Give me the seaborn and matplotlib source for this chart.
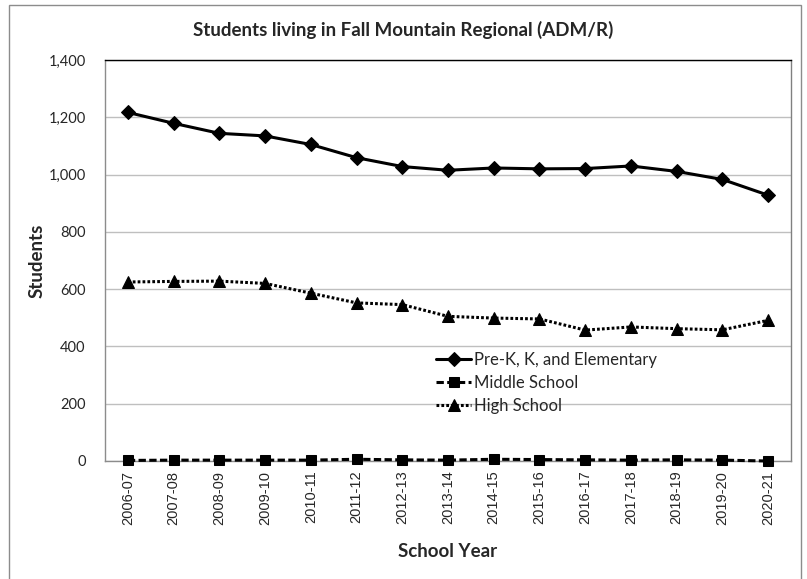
import matplotlib
matplotlib.use('Agg')
import matplotlib.pyplot as plt
from matplotlib.patches import Rectangle
import seaborn as sns
import pandas as pd

# Data
years = ['2006-07', '2007-08', '2008-09', '2009-10', '2010-11', '2011-12', '2012-13',
         '2013-14', '2014-15', '2015-16', '2016-17', '2017-18', '2018-19', '2019-20', '2020-21']
elementary = [1217, 1179, 1144, 1135, 1105, 1059, 1028, 1015, 1023, 1020, 1021, 1030, 1011, 983, 928]
middle = [2, 3, 3, 3, 3, 6, 4, 3, 6, 5, 4, 3, 4, 3, 0]
high = [625, 627, 628, 620, 586, 552, 546, 505, 499, 496, 457, 468, 462, 458, 491]

series = ['Pre-K, K, and Elementary', 'Middle School', 'High School']
values = [elementary, middle, high]
markers = ['D', 's', '^']
dashes = ['-', (0, (2.4, 1.1)), (0, (0.9, 0.7))]
msizes = [7, 7, 8]

sns.set_style('white')
plt.rcParams['font.family'] = ['Lato', 'DejaVu Sans']

fig = plt.figure(figsize=(8.07, 5.79), dpi=100)
ax = fig.add_axes([105 / 807, 1 - 461 / 579, (791 - 105) / 807, (461 - 60) / 579])

for name, vals, m, ls, ms in zip(series, values, markers, dashes, msizes):
    df = pd.DataFrame({'School Year': years, 'Students': vals})
    sns.lineplot(data=df, x='School Year', y='Students', ax=ax, color='black',
                 marker=m, markersize=ms, markeredgecolor='black', linestyle=ls,
                 linewidth=2.2, label=name, sort=False, zorder=4, clip_on=False)

ax.set_xlim(-0.5, len(years) - 0.5)
ax.set_ylim(0, 1400)
ax.set_yticks(range(0, 1401, 200))
ax.set_yticklabels([f'{v:,}' for v in range(0, 1401, 200)], fontsize=10.5)
ax.set_xticks(range(len(years)))
ax.set_xticklabels(years, rotation=90, fontsize=10.5, family='Liberation Sans')
ax.tick_params(axis='both', length=0)
ax.tick_params(axis='y', pad=14)
ax.tick_params(axis='x', pad=7)
ax.yaxis.grid(True, color='#bfbfbf', linewidth=1)
ax.set_axisbelow(True)

for side in ['left', 'bottom']:
    ax.spines[side].set_color('#8c8c8c')
    ax.spines[side].set_linewidth(1)
ax.spines['top'].set_color('black')
ax.spines['right'].set_color('#808080')
for side in ['top', 'right']:
    ax.spines[side].set_linewidth(1)

fig.suptitle('Students living in Fall Mountain Regional (ADM/R)', x=0.5, y=1 - 30 / 579,
             va='center', fontsize=13.5, fontweight='bold')
ax.set_ylabel('Students', fontsize=13.5, fontweight='bold', labelpad=2)
ax.set_xlabel('School Year', fontsize=13.5, fontweight='bold', labelpad=13)

leg = ax.legend(loc='upper left', bbox_to_anchor=((436 - 105) / 686, (461 - 352) / 401),
                frameon=False, fontsize=12, handlelength=2.1, handletextpad=0.15,
                labelspacing=0.42, borderaxespad=0, borderpad=0)

# outer chart frame
fig.patches.append(Rectangle((9 / 807, -0.02), (801 - 9) / 807, 1.02 - 5 / 579,
                             transform=fig.transFigure, fill=False,
                             edgecolor='#8c8c8c', linewidth=1))

fig.savefig('out.png', dpi=100)
